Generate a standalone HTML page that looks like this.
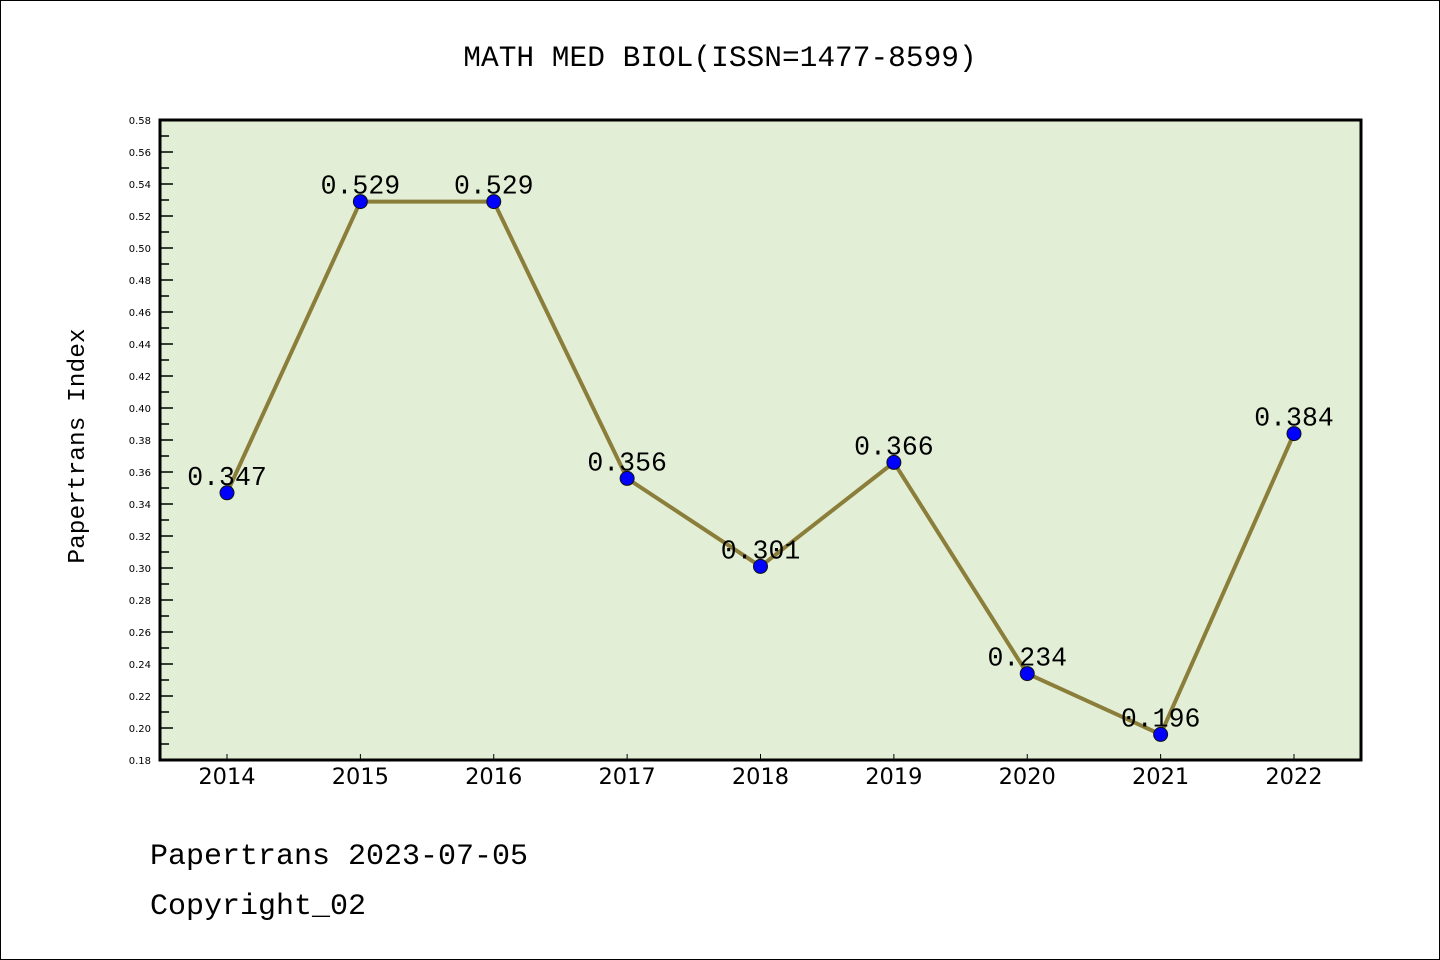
<!DOCTYPE html>
<html><head><meta charset="utf-8"><style>
html,body{margin:0;padding:0;background:#fff}
svg{display:block}
</style></head><body>
<svg width="1440" height="960" xmlns="http://www.w3.org/2000/svg">
<rect x="0.5" y="0.5" width="1439" height="959" fill="#fff" stroke="#000"/>
<text x="720" y="66" text-anchor="middle" font-family="Liberation Mono, monospace" font-size="29.5">MATH MED BIOL(ISSN=1477-8599)</text>
<rect x="160" y="120" width="1201" height="640" fill="#e2efd6"/>
<g id="yt"></g>
<g id="xt"></g>
<g id="series"></g>
<rect x="160" y="120" width="1201" height="640" fill="none" stroke="#000" stroke-width="3"/>
<text transform="translate(84,446) rotate(-90)" text-anchor="middle" font-family="Liberation Mono, monospace" font-size="24.5">Papertrans Index</text>
<text x="150" y="864" font-family="Liberation Mono, monospace" font-size="30">Papertrans 2023-07-05</text>
<text x="150" y="914" font-family="Liberation Mono, monospace" font-size="30">Copyright_02</text>
</svg>
<script>
const years=[2014,2015,2016,2017,2018,2019,2020,2021,2022];
const values=[0.347,0.529,0.529,0.356,0.301,0.366,0.234,0.196,0.384];
const labels=["0.347","0.529","0.529","0.356","0.301","0.366","0.234","0.196","0.384"];
const yTicks=[0.18,0.20,0.22,0.24,0.26,0.28,0.30,0.32,0.34,0.36,0.38,0.40,0.42,0.44,0.46,0.48,0.50,0.52,0.54,0.56,0.58];
const NS="http://www.w3.org/2000/svg";
function X(i){return 227+i*(1294-227)/8;}
function Y(v){return 760-(v-0.18)*1600;}
function mk(tag,attrs,parent){const e=document.createElementNS(NS,tag);for(const k in attrs)e.setAttribute(k,attrs[k]);parent.appendChild(e);return e;}
const yt=document.getElementById('yt');
yTicks.forEach((v,i)=>{
  const y=Y(v);
  const t=mk('line',{x1:160,x2:173,y1:y,y2:y,stroke:'#000','stroke-width':1.5},yt);
  
  
  if(i<yTicks.length-1){const ym=Y(v+0.01);
    const m=mk('line',{x1:160,x2:169,y1:ym,y2:ym,stroke:'#000','stroke-width':1.5},yt);
    
    }
  const l=mk('text',{x:151,y:y+4,'text-anchor':'end','font-family':'DejaVu Sans, sans-serif','font-size':10},yt);
  l.textContent=v.toFixed(2);
  
  
});
const xt=document.getElementById('xt');
years.forEach((yr,i)=>{
  const x=X(i);
  const t=mk('line',{x1:x,x2:x,y1:760,y2:754,stroke:'#000','stroke-width':1},xt);
  
  
  const l=mk('text',{x:x,y:784,'text-anchor':'middle','font-family':'DejaVu Sans, sans-serif','font-size':22.5},xt);
  l.textContent=yr;
  
  
});
const s=document.getElementById('series');
const pl=mk('polyline',{points:values.map((v,i)=>X(i)+','+Y(v)).join(' '),fill:'none',stroke:'#8b7d3a','stroke-width':4,'stroke-linejoin':'round'},s);


values.forEach((v,i)=>{
  const c=mk('circle',{cx:X(i),cy:Y(v),r:7,fill:'#0000ff',stroke:'#111','stroke-width':1},s);
  
  
  const l=mk('text',{x:X(i),y:Y(v)-8,'text-anchor':'middle','font-family':'Liberation Mono, monospace','font-size':26.5},s);
  l.textContent=labels[i];
  
  
});
</script>
</body></html>
